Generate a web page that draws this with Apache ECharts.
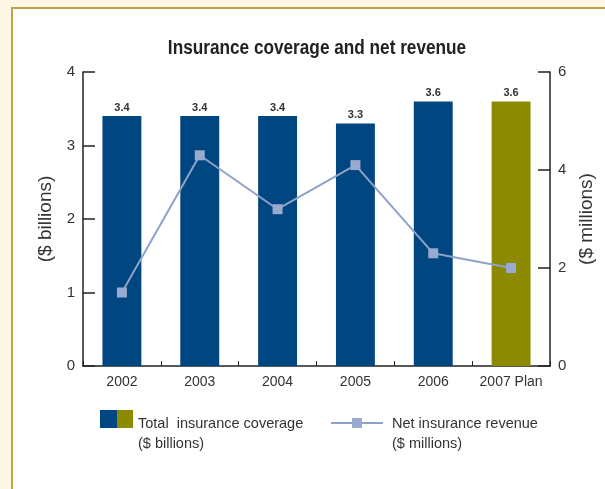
<!DOCTYPE html>
<html>
<head>
<meta charset="utf-8">
<script src="https://cdn.jsdelivr.net/npm/echarts@6/dist/echarts.min.js"></script>
<style>
  html, body { margin: 0; padding: 0; background: #fef7e4; }
  #chart { width: 605px; height: 489px; }
</style>
</head>
<body>
<div id="chart"></div>
<script>
// Categories and values
const years = ['2002', '2003', '2004', '2005', '2006', '2007 Plan'];
const coverageBillions = [3.4, 3.4, 3.4, 3.3, 3.6, 3.6];
const revenueMillions = [1.5, 4.3, 3.2, 4.1, 2.3, 2.0];
const leftTicks = [0, 1, 2, 3, 4];
const rightTicks = [0, 2, 4, 6];

const FONT = '"Liberation Sans", Arial, sans-serif';
const ACTUAL = '#004680';
const PLAN = '#8c8a00';
const LINE = '#8ea2c8';
const MARK = '#98aacf';
const AXIS = '#222222';

const chart = echarts.init(document.getElementById('chart'));

const axisCommon = {
  axisLine: { show: true, lineStyle: { color: AXIS, width: 1.5 } },
  axisTick: { show: true, inside: true, length: 12, lineStyle: { color: AXIS, width: 1.5 } },
  splitLine: { show: false },
  axisLabel: { color: '#333', fontFamily: FONT, fontSize: 15, margin: 8 },
  nameLocation: 'middle',
  nameRotate: 90,
  nameTextStyle: { color: '#333', fontFamily: FONT, fontSize: 19 }
};

chart.setOption({
  animation: false,
  backgroundColor: '#fef7e4',
  grid: { left: 83, right: 55, top: 72, bottom: 123 },
  xAxis: {
    type: 'category',
    data: years,
    axisLine: { lineStyle: { color: AXIS, width: 1.5 } },
    axisTick: { show: true, inside: true, interval: 0, length: 5, lineStyle: { color: AXIS, width: 1 } },
    axisLabel: { color: '#333', fontFamily: FONT, fontSize: 14, margin: 9, interval: 0 }
  },
  yAxis: [
    Object.assign({}, axisCommon, {
      type: 'value', position: 'left', min: leftTicks[0], max: leftTicks[leftTicks.length - 1], interval: 1,
      name: '($ billions)', nameGap: 27
    }),
    Object.assign({}, axisCommon, {
      type: 'value', position: 'right', min: rightTicks[0], max: rightTicks[rightTicks.length - 1], interval: 2,
      name: '($ millions)', nameGap: 25
    })
  ],
  series: [
    {
      type: 'bar',
      yAxisIndex: 0,
      barWidth: '50%',
      data: coverageBillions.map((v, i) => ({
        value: v,
        itemStyle: { color: i === coverageBillions.length - 1 ? PLAN : ACTUAL }
      })),
      label: {
        show: true, position: 'top', distance: 3,
        fontFamily: FONT, fontWeight: 'bold', fontSize: 11, color: '#333',
        formatter: p => p.value.toFixed(1)
      }
    },
    {
      type: 'line',
      yAxisIndex: 1,
      data: revenueMillions,
      symbol: 'rect',
      symbolSize: 10,
      itemStyle: { color: MARK },
      lineStyle: { color: LINE, width: 2 },
      z: 5
    }
  ],
  graphic: [
    // white panel with gold frame
    { type: 'rect', z: -10, silent: true,
      shape: { x: 12, y: 8, width: 620, height: 500 },
      style: { fill: '#ffffff', stroke: '#bfa24e', lineWidth: 2 } },
    // title, set in a condensed bold face
    { type: 'text', x: 317, y: 48, scaleX: 0.86,
      style: { text: 'Insurance coverage and net revenue', fontFamily: FONT, fontWeight: 'bold',
               fontSize: 20, fill: '#222', align: 'center', verticalAlign: 'middle' } },
    // legend: coverage swatches
    { type: 'rect', shape: { x: 100, y: 410, width: 17, height: 18 }, style: { fill: ACTUAL } },
    { type: 'rect', shape: { x: 117, y: 410, width: 16, height: 18 }, style: { fill: PLAN } },
    { type: 'text', x: 138, y: 414,
      style: { text: 'Total  insurance coverage\n($ billions)', fontFamily: FONT, fontSize: 14.5, fill: '#333', lineHeight: 20 } },
    // legend: revenue line
    { type: 'line', shape: { x1: 331, y1: 423, x2: 383, y2: 423 }, style: { stroke: LINE, lineWidth: 2 } },
    { type: 'rect', shape: { x: 352, y: 418, width: 10, height: 10 }, style: { fill: MARK } },
    { type: 'text', x: 392, y: 414,
      style: { text: 'Net insurance revenue\n($ millions)', fontFamily: FONT, fontSize: 14.5, fill: '#333', lineHeight: 20 } }
  ]
});
</script>
</body>
</html>
